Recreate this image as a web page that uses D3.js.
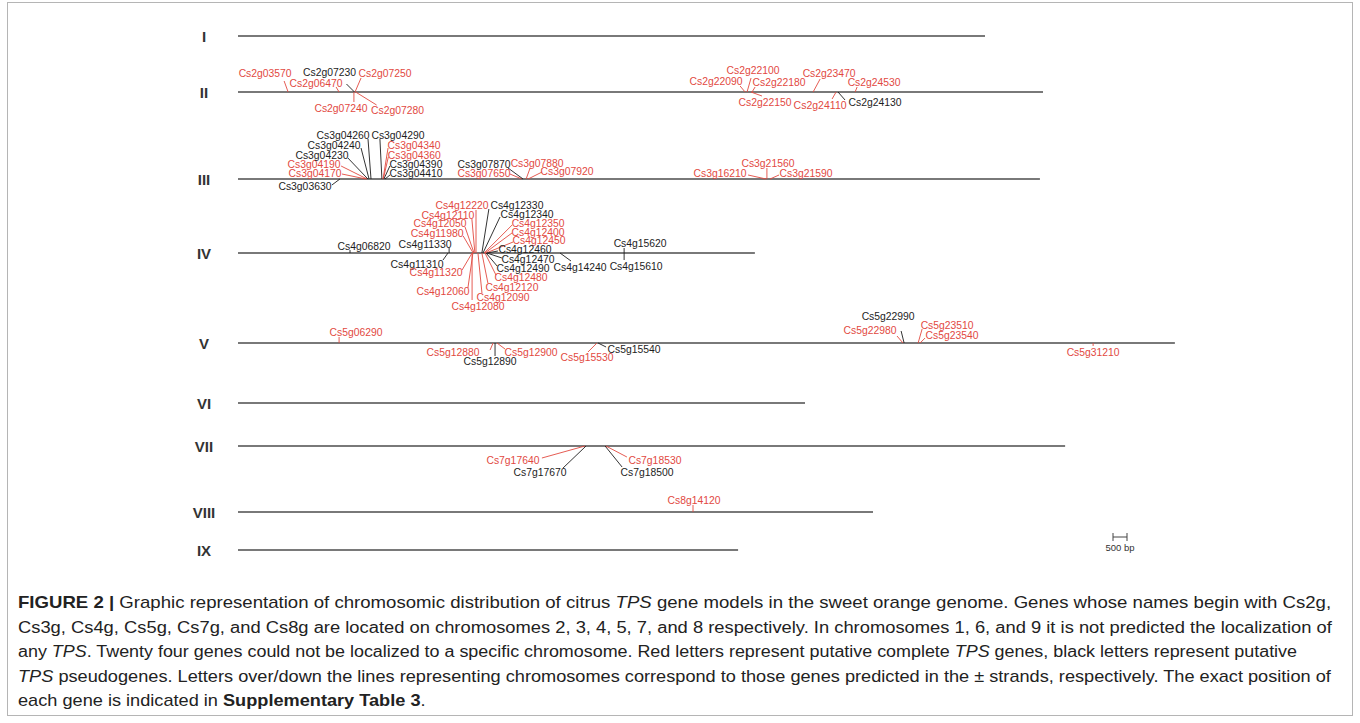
<!DOCTYPE html>
<html>
<head>
<meta charset="utf-8">
<script src="https://cdn.jsdelivr.net/npm/d3@7"></script>
<style>
  html, body { margin: 0; padding: 0; background: #fff; }
  svg { display: block; }
</style>
</head>
<body>
<svg id="fig" width="1360" height="723"></svg>
<script>
// ---------- data ----------
const chromosomes  = ["I", "II", "III", "IV", "V", "VI", "VII", "VIII", "IX"];
const chromLengths = [26680, 28750, 28640, 18460, 33460, 20250, 29540, 22680, 17860]; // bp

// gene rows: [name, chromosome, position (bp), strand, kind]
// kind "c" = putative complete TPS (red), "p" = putative pseudogene (black)
const genesChr2 = [
  ["Cs2g03570", "II", 1790, "+", "c"],
  ["Cs2g06470", "II", 3610, "+", "c"],
  ["Cs2g07230", "II", 4160, "+", "p"],
  ["Cs2g07250", "II", 4180, "+", "c"],
  ["Cs2g07240", "II", 4140, "-", "c"],
  ["Cs2g07280", "II", 4200, "-", "c"],
  ["Cs2g22090", "II", 18110, "+", "c"],
  ["Cs2g22100", "II", 18180, "+", "c"],
  ["Cs2g22180", "II", 18360, "+", "c"],
  ["Cs2g22150", "II", 18320, "-", "c"],
  ["Cs2g23470", "II", 20540, "+", "c"],
  ["Cs2g24530", "II", 22040, "+", "c"],
  ["Cs2g24110", "II", 21360, "-", "c"],
  ["Cs2g24130", "II", 21430, "-", "p"]
];
const genesChr3 = [
  ["Cs3g03630", "III", 3640, "-", "p"],
  ["Cs3g04170", "III", 4570, "+", "c"],
  ["Cs3g04190", "III", 4610, "+", "c"],
  ["Cs3g04230", "III", 4640, "+", "p"],
  ["Cs3g04240", "III", 4680, "+", "p"],
  ["Cs3g04260", "III", 4750, "+", "p"],
  ["Cs3g04290", "III", 5140, "+", "p"],
  ["Cs3g04340", "III", 5180, "+", "c"],
  ["Cs3g04360", "III", 5190, "+", "c"],
  ["Cs3g04390", "III", 5210, "+", "p"],
  ["Cs3g04410", "III", 5250, "+", "p"],
  ["Cs3g07650", "III", 10140, "+", "c"],
  ["Cs3g07870", "III", 10180, "+", "p"],
  ["Cs3g07880", "III", 10290, "+", "c"],
  ["Cs3g07920", "III", 10360, "+", "c"],
  ["Cs3g16210", "III", 18860, "+", "c"],
  ["Cs3g21560", "III", 18890, "+", "c"],
  ["Cs3g21590", "III", 19000, "+", "c"]
];
const genesChr4 = [
  ["Cs4g06820", "IV", 4000, "+", "p"],
  ["Cs4g11330", "IV", 7540, "+", "p"],
  ["Cs4g11310", "IV", 7500, "-", "p"],
  ["Cs4g11320", "IV", 8360, "-", "c"],
  ["Cs4g12060", "IV", 8390, "-", "c"],
  ["Cs4g11980", "IV", 8400, "+", "c"],
  ["Cs4g12050", "IV", 8430, "+", "c"],
  ["Cs4g12110", "IV", 8460, "+", "c"],
  ["Cs4g12220", "IV", 8500, "+", "c"],
  ["Cs4g12080", "IV", 8360, "-", "c"],
  ["Cs4g12090", "IV", 8570, "-", "c"],
  ["Cs4g12120", "IV", 8710, "-", "c"],
  ["Cs4g12330", "IV", 8710, "+", "p"],
  ["Cs4g12340", "IV", 8750, "+", "p"],
  ["Cs4g12350", "IV", 8790, "+", "c"],
  ["Cs4g12400", "IV", 8820, "+", "c"],
  ["Cs4g12450", "IV", 8860, "+", "c"],
  ["Cs4g12460", "IV", 8890, "+", "p"],
  ["Cs4g12470", "IV", 8890, "-", "p"],
  ["Cs4g12490", "IV", 8860, "-", "p"],
  ["Cs4g12480", "IV", 8820, "-", "c"],
  ["Cs4g14240", "IV", 11500, "-", "p"],
  ["Cs4g15620", "IV", 13790, "+", "p"],
  ["Cs4g15610", "IV", 13790, "-", "p"]
];
const genesChr5 = [
  ["Cs5g06290", "V", 3610, "+", "c"],
  ["Cs5g12880", "V", 9110, "-", "c"],
  ["Cs5g12890", "V", 9180, "-", "p"],
  ["Cs5g12900", "V", 9250, "-", "c"],
  ["Cs5g15530", "V", 12820, "-", "c"],
  ["Cs5g15540", "V", 12860, "-", "p"],
  ["Cs5g22990", "V", 23790, "+", "p"],
  ["Cs5g22980", "V", 23750, "+", "c"],
  ["Cs5g23510", "V", 24290, "+", "c"],
  ["Cs5g23540", "V", 24360, "+", "c"],
  ["Cs5g31210", "V", 30540, "-", "c"]
];
const genesChr7 = [
  ["Cs7g17640", "VII", 12390, "-", "c"],
  ["Cs7g17670", "VII", 12430, "-", "p"],
  ["Cs7g18530", "VII", 13140, "-", "c"],
  ["Cs7g18500", "VII", 13110, "-", "p"]
];
const genesChr8 = [
  ["Cs8g14120", "VIII", 16250, "+", "c"]
];
const scaleBarBp = 500;

const captionLines = [
  [["FIGURE 2 | ", "b"], ["Graphic representation of chromosomic distribution of citrus ", ""], ["TPS", "i"], [" gene models in the sweet orange genome. Genes whose names begin with Cs2g,", ""]],
  [["Cs3g, Cs4g, Cs5g, Cs7g, and Cs8g are located on chromosomes 2, 3, 4, 5, 7, and 8 respectively. In chromosomes 1, 6, and 9 it is not predicted the localization of", ""]],
  [["any ", ""], ["TPS", "i"], [". Twenty four genes could not be localized to a specific chromosome. Red letters represent putative complete ", ""], ["TPS", "i"], [" genes, black letters represent putative", ""]],
  [["TPS", "i"], [" pseudogenes. Letters over/down the lines representing chromosomes correspond to those genes predicted in the \u00b1 strands, respectively. The exact position of", ""]],
  [["each gene is indicated in ", ""], ["Supplementary Table 3", "b"], [".", ""]]
];

// ---------- layout ----------
// vertical position of each chromosome row
const rowY = [36, 92, 179, 253, 343, 403, 446, 512, 550];
// label placement relative to the gene's point on its chromosome:
// [text centre dx, text centre dy, leader end dx, leader end dy]
const labelLayout = {
  Cs2g03570: [-23, -19, -4, -11], Cs2g06470: [-23, -9, -3, -5],
  Cs2g07230: [-25, -20, -8, -8],  Cs2g07250: [30, -19, 6, -14],
  Cs2g07240: [-13, 16, 0, 10],    Cs2g07280: [42, 18, 21, 13],
  Cs2g22090: [-29, -11, -5, -6],  Cs2g22100: [6, -22, 4, -14],
  Cs2g22180: [27, -10, 3, -5],    Cs2g22150: [14, 10, 11, 4],
  Cs2g23470: [16, -19, 7, -13],   Cs2g24530: [19, -10, 2, -5],
  Cs2g24110: [-16, 13, -4, 7],    Cs2g24130: [37, 10, 7, 8],

  Cs3g03630: [-35, 7, -8, 6],     Cs3g04170: [-51, -6, -24, -5],
  Cs3g04190: [-53, -15, -26, -13], Cs3g04230: [-46, -24, -20, -21],
  Cs3g04240: [-35, -34, -8, -31], Cs3g04260: [-28, -44, -3, -40],
  Cs3g04290: [16, -44, -2, -40],  Cs3g04340: [31, -34, 5, -31],
  Cs3g04360: [31, -24, 5, -22],   Cs3g04390: [32, -15, 6, -13],
  Cs3g04410: [31, -6, 5, -4],     Cs3g07650: [-38, -6, -12, -5],
  Cs3g07870: [-39, -15, -15, -11], Cs3g07880: [11, -16, 4, -11],
  Cs3g07920: [39, -8, 14, -7],    Cs3g16210: [-46, -6, -18, -4],
  Cs3g21560: [1, -16, 0, -11],    Cs3g21590: [36, -6, 9, -4],

  Cs4g06820: [14, -7, 0, -3],     Cs4g11330: [-24, -9, 0, -5],
  Cs4g11310: [-31, 11, -5, 7],    Cs4g11320: [-36, 19, -10, 17],
  Cs4g12060: [-30, 38, -5, 35],   Cs4g11980: [-36, -20, -10, -17],
  Cs4g12050: [-34, -30, -9, -26], Cs4g12110: [-27, -38, -3, -34],
  Cs4g12220: [-14, -48, 0, -43],  Cs4g12080: [6, 53, 0, 47],
  Cs4g12090: [25, 44, 4, 40],     Cs4g12120: [30, 34, 6, 30],
  Cs4g12330: [35, -48, 7, -44],   Cs4g12340: [44, -39, 17, -36],
  Cs4g12350: [54, -30, 28, -28],  Cs4g12400: [53, -21, 27, -20],
  Cs4g12450: [53, -13, 27, -11],  Cs4g12460: [38, -4, 11, -2],
  Cs4g12470: [41, 6, 15, 5],      Cs4g12490: [37, 15, 11, 13],
  Cs4g12480: [36, 24, 11, 22],    Cs4g14240: [20, 14, 11, 8],
  Cs4g15620: [16, -10, 0, -5],    Cs4g15610: [12, 13, 0, 7],

  Cs5g06290: [17, -11, 0, -6],    Cs5g12880: [-40, 9, -3, 7],
  Cs5g12890: [-5, 18, 0, 13],     Cs5g12900: [34, 9, 8, 6],
  Cs5g15530: [-10, 14, -9, 9],    Cs5g15540: [36, 6, 8, 4],
  Cs5g22990: [-16, -27, -3, -12], Cs5g22980: [-33, -13, -6, -7],
  Cs5g23510: [29, -18, 4, -14],   Cs5g23540: [32, -8, 5, -5],
  Cs5g31210: [0, 9, 0, 3],

  Cs7g17640: [-72, 14, -43, 12],  Cs7g17670: [-46, 26, -23, 22],
  Cs7g18530: [49, 14, 21, 11],    Cs7g18500: [42, 26, 17, 21],

  Cs8g14120: [1, -12, 0, -7]
};

const RED = "#e2493f", BLACK = "#1d1d1d", LINE = "#4d4d4d";
const FONT = "'Liberation Sans', Arial, Helvetica, sans-serif";

const svg = d3.select("#fig");

// frame around the figure and caption
svg.append("rect")
  .attr("x", 7.5).attr("y", 2.5).attr("width", 1345).attr("height", 713)
  .attr("fill", "none").attr("stroke", "#b5b5b5").attr("stroke-width", 1);

// bp -> px (500 bp spans 14 px)
const x = d3.scaleLinear().domain([0, 30000]).range([238, 238 + 30000 * 14 / 500]);
const y = d3.scaleOrdinal().domain(chromosomes).range(rowY);

const chromData = chromosomes.map((c, i) => ({ name: c, length: chromLengths[i] }));

// chromosome lines
svg.append("g").selectAll("line").data(chromData).join("line")
  .attr("x1", x(0)).attr("x2", d => x(d.length))
  .attr("y1", d => y(d.name)).attr("y2", d => y(d.name))
  .attr("stroke", LINE).attr("stroke-width", 1.6);

// roman numeral labels
svg.append("g").selectAll("text").data(chromData).join("text")
  .attr("x", 204).attr("y", d => y(d.name))
  .attr("text-anchor", "middle").attr("dominant-baseline", "central")
  .attr("font-family", FONT).attr("font-weight", "bold").attr("font-size", 15)
  .attr("fill", "#333").text(d => d.name);

// genes
const genes = [].concat(genesChr2, genesChr3, genesChr4, genesChr5, genesChr7, genesChr8)
  .map(([name, chrom, pos, strand, kind]) => ({ name, chrom, pos, strand, kind, lay: labelLayout[name] }));

const gGenes = svg.append("g");
gGenes.selectAll("line").data(genes).join("line")
  .attr("x1", d => x(d.pos)).attr("y1", d => y(d.chrom))
  .attr("x2", d => x(d.pos) + d.lay[2]).attr("y2", d => y(d.chrom) + d.lay[3])
  .attr("stroke", d => d.kind === "c" ? RED : BLACK).attr("stroke-width", 0.9);

// gene names: condensed slightly so stacked labels keep the same footprint
gGenes.selectAll("text").data(genes).join("text")
  .attr("transform", d => `translate(${x(d.pos) + d.lay[0]},${y(d.chrom) + d.lay[1]})`)
  .attr("text-anchor", "middle").attr("dominant-baseline", "central")
  .attr("font-family", FONT).attr("font-size", 10)
  .attr("textLength", 53).attr("lengthAdjust", "spacingAndGlyphs")
  .attr("fill", d => d.kind === "c" ? RED : BLACK).text(d => d.name);

// scale bar
const sbX = 1113, sbY = 537;
const sbW = x(scaleBarBp) - x(0);
const sb = svg.append("g").attr("stroke", "#444").attr("stroke-width", 1);
sb.append("line").attr("x1", sbX).attr("x2", sbX + sbW).attr("y1", sbY).attr("y2", sbY);
sb.append("line").attr("x1", sbX).attr("x2", sbX).attr("y1", sbY - 4).attr("y2", sbY + 4);
sb.append("line").attr("x1", sbX + sbW).attr("x2", sbX + sbW).attr("y1", sbY - 4).attr("y2", sbY + 4);
svg.append("text").attr("x", sbX + sbW / 2).attr("y", 551)
  .attr("text-anchor", "middle").attr("font-family", FONT).attr("font-size", 9.5)
  .attr("fill", "#333").text(`${scaleBarBp} bp`);

// caption, condensed horizontally to fill each line
const capY = [608, 633, 657, 682, 706];
const capTarget = [1314, 1315, 1280, 1314, null];
const cap = svg.append("g");
let lastScale = 1;
captionLines.forEach((segs, i) => {
  const t = cap.append("text")
    .attr("x", 0).attr("y", 0)
    .attr("font-family", FONT).attr("font-size", 16).attr("fill", "#222");
  segs.forEach(([s, st]) => {
    const ts = t.append("tspan").text(s);
    if (st === "b") ts.attr("font-weight", "bold");
    if (st === "i") ts.attr("font-style", "italic");
  });
  const w = t.node().getComputedTextLength();
  const sx = capTarget[i] ? capTarget[i] / w : lastScale;
  lastScale = sx;
  t.attr("transform", `translate(18,${capY[i]}) scale(${sx},1)`);
});
</script>
</body>
</html>
